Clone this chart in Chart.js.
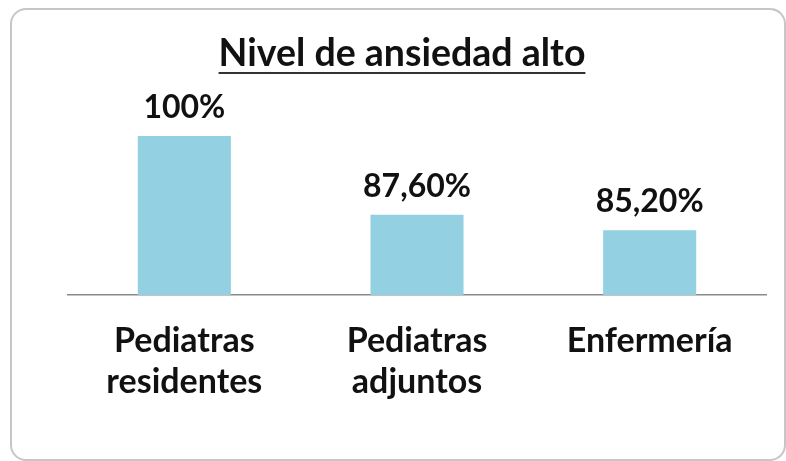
<!DOCTYPE html>
<html>
<head>
<meta charset="utf-8">
<script src="https://cdn.jsdelivr.net/npm/chart.js@4"></script>
<style>
  html, body { margin: 0; padding: 0; background: #fff; }
  body { width: 786px; height: 461px; position: relative; overflow: hidden; }
  #mc { position: absolute; left: 0; top: 0; }
  .frame {
    position: absolute; left: 10px; top: 8px; width: 772px; height: 449px;
    border: 2px solid #c6c6c6; border-radius: 16px; pointer-events: none;
  }
</style>
</head>
<body>
<canvas id="mc" width="786" height="461"></canvas>
<div class="frame"></div>
<script>
const titleText = 'Nivel de ansiedad alto';
const categories = [['Pediatras', 'residentes'], ['Pediatras', 'adjuntos'], 'Enfermería'];
const values = [100, 87.6, 85.2];
const valueLabels = ['100%', '87,60%', '85,20%'];

const fontFam = "Lato, 'Liberation Sans', sans-serif";

// title with underline + labels above bars
const decor = {
    id: 'decor',
    afterDatasetsDraw(chart) {
        const g = chart.ctx;
        g.save();
        g.fillStyle = '#111';
        g.textAlign = 'center';
        g.textBaseline = 'alphabetic';

        g.font = 'bold 32px ' + fontFam;
        chart.getDatasetMeta(0).data.forEach((bar, i) => {
            g.fillText(valueLabels[i], bar.x, bar.y - 18);
        });

        g.font = 'bold 37.5px ' + fontFam;
        const tx = 402, ty = 66;
        g.fillText(titleText, tx, ty);
        const w = g.measureText(titleText).width;
        g.fillStyle = '#333';
        g.fillRect(tx - w / 2, ty + 6, w, 2);
        g.restore();
    }
};

const ctx = document.getElementById('mc');
new Chart(ctx, {
    type: 'bar',
    data: {
        labels: categories,
        datasets: [{
            data: values,
            backgroundColor: 'rgb(146, 208, 226)',
            categoryPercentage: 1,
            barPercentage: 0.4
        }]
    },
    options: {
        responsive: false,
        animation: false,
        layout: { padding: { left: 68, right: 20, top: 136, bottom: 40 } },
        plugins: { legend: { display: false }, tooltip: { enabled: false } },
        scales: {
            x: {
                grid: { display: false, drawTicks: false },
                border: { display: true, color: '#8a8a8a', width: 1.5 },
                ticks: {
                    color: '#111',
                    padding: 25,
                    font: { family: fontFam, size: 34, weight: 'bold', lineHeight: 1.21 }
                },
                afterFit(s) { s.height = 126; }
            },
            y: {
                display: false,
                min: 75,
                max: 100
            }
        }
    },
    plugins: [decor]
});
</script>
</body>
</html>
